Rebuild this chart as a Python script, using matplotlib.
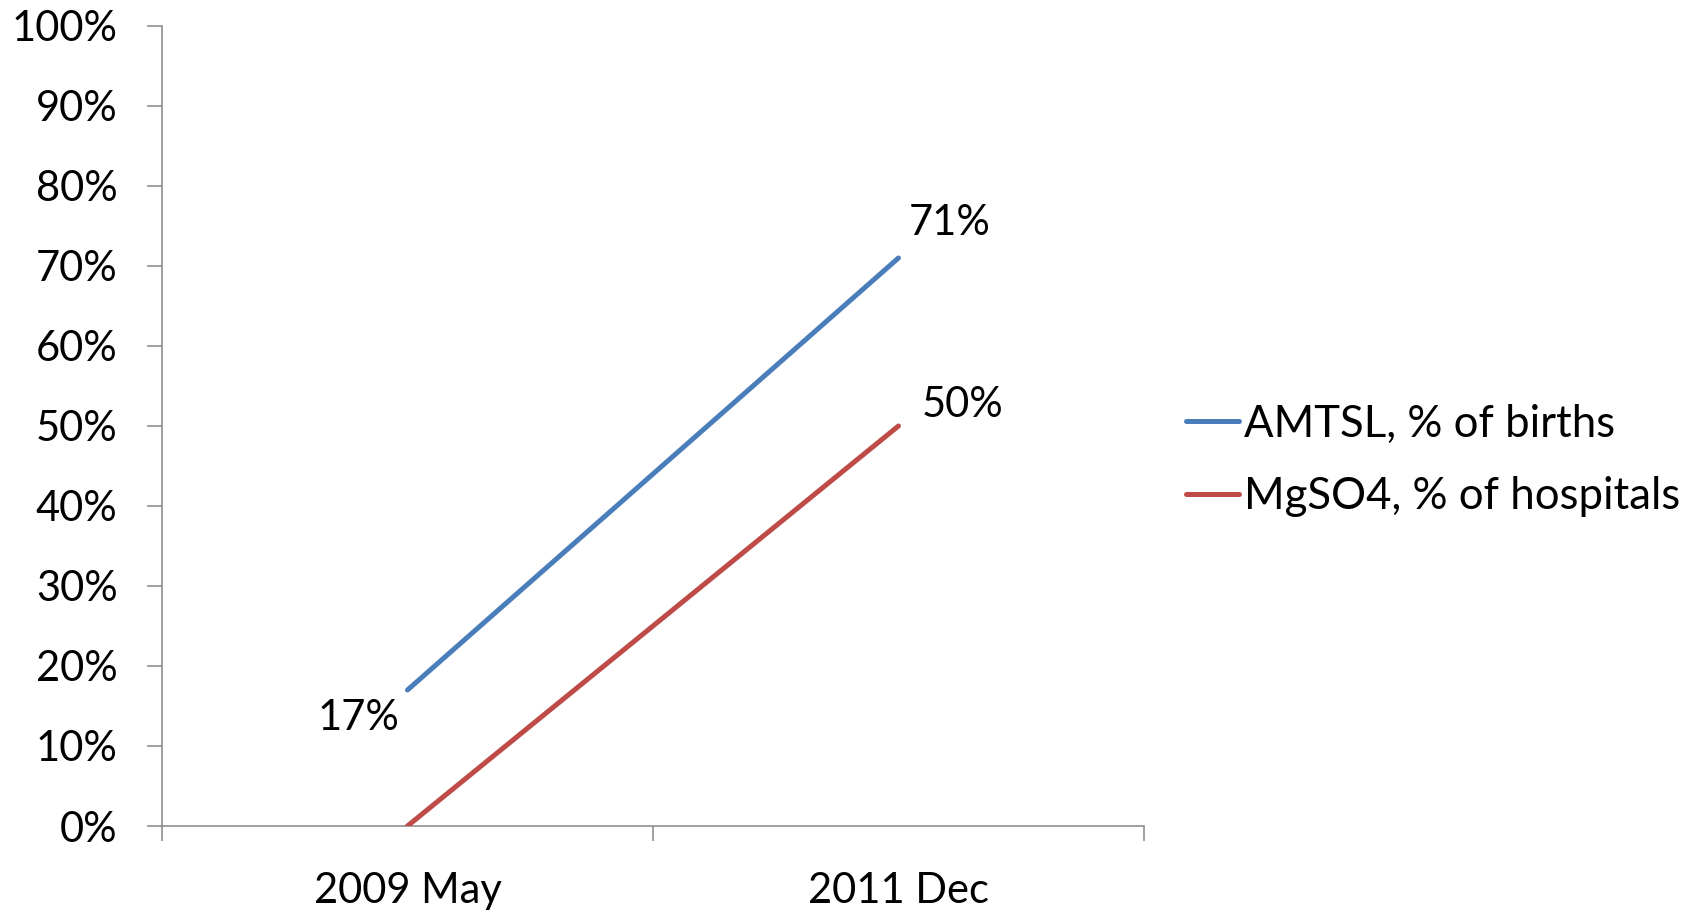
import matplotlib
matplotlib.use("Agg")
import matplotlib.pyplot as plt
import matplotlib.ticker as ticker

categories = ["2009 May", "2011 Dec"]
amtsl = [0.17, 0.71]
mgso4 = [0.0, 0.50]
series_names = ["AMTSL, % of births", "MgSO4, % of hospitals"]

plt.rcParams["font.family"] = ["Lato", "DejaVu Sans"]
FS = 30
AXIS_GREY = "#868686"

fig = plt.figure(figsize=(16.98, 9.11), dpi=100)
ax = fig.add_axes([0.0954, 0.0933, 0.5783, 0.8782])

x = list(range(len(categories)))
ax.plot(x, amtsl, color="#4A7EBB", lw=3.6, solid_capstyle="round", label=series_names[0])
ax.plot(x, mgso4, color="#BE4B48", lw=3.6, solid_capstyle="round", label=series_names[1])

# data labels
ax.annotate("17%", (x[0], amtsl[0]), xytext=(-35, -20), textcoords="offset points",
            ha="center", va="center", fontsize=FS)
ax.annotate("71%", (x[1], amtsl[1]), xytext=(37, 25), textcoords="offset points",
            ha="center", va="center", fontsize=FS)
ax.annotate("50%", (x[1], mgso4[1]), xytext=(46, 15), textcoords="offset points",
            ha="center", va="center", fontsize=FS)

ax.set_xlim(-0.5, len(categories) - 0.5)
ax.set_ylim(0, 1)
ax.yaxis.set_major_locator(ticker.MultipleLocator(0.1))
ax.yaxis.set_major_formatter(ticker.FuncFormatter(lambda v, p: "%d%%" % round(v * 100)))

ax.set_xticks(x)
ax.set_xticklabels(categories)
ax.set_xticks([-0.5, 0.5, 1.5], minor=True)
ax.tick_params(axis="x", which="major", length=0, pad=33, labelsize=FS)
ax.tick_params(axis="x", which="minor", length=11, width=1.1, color=AXIS_GREY)
ax.tick_params(axis="y", length=11, width=1.1, color=AXIS_GREY, pad=21, labelsize=FS)

for side in ["top", "right"]:
    ax.spines[side].set_visible(False)
for side in ["left", "bottom"]:
    ax.spines[side].set_color(AXIS_GREY)
    ax.spines[side].set_linewidth(1.1)
ax.spines["bottom"].set_zorder(1)

fig.legend(loc="center left", bbox_to_anchor=(0.6985, 0.4945), frameon=False,
           fontsize=31.5, handlelength=1.2, handletextpad=0.12, borderpad=0,
           borderaxespad=0, labelspacing=0.72)

fig.savefig("out.png", dpi=100)
